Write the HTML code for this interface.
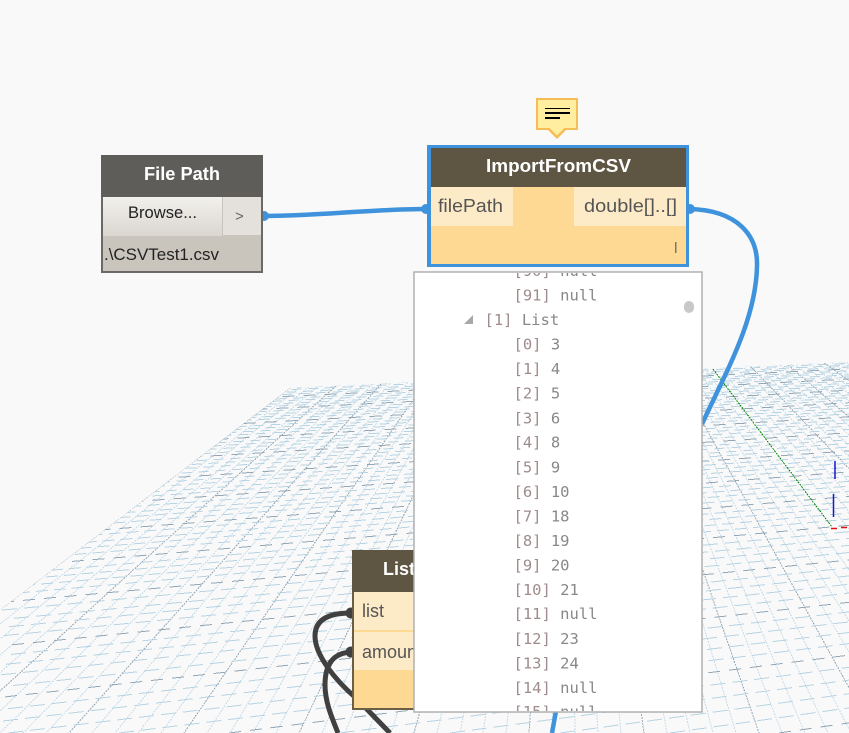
<!DOCTYPE html>
<html><head><meta charset="utf-8"><title>Dynamo graph</title>
<style>
html,body{margin:0;padding:0;background:#f9f9f9;width:849px;height:733px;overflow:hidden}
svg{display:block}
.h{font:bold 18px "Liberation Sans",sans-serif;fill:#fff}
.p{font:18px "Liberation Sans",sans-serif;fill:#555}
.b{font:17px "Liberation Sans",sans-serif;fill:#222}
.m{font:15.5px "DejaVu Sans Mono","Liberation Mono",monospace;fill:#888}
.m tspan{fill:#a08c8c}
</style></head><body>
<svg width="849" height="733" viewBox="0 0 849 733" xmlns="http://www.w3.org/2000/svg">
<defs>
<clipPath id="g"><polygon points="290,388 849,362 849,733 0,733 0,610"/></clipPath>
<clipPath id="pop"><rect x="415" y="273" width="286" height="438"/></clipPath>
<clipPath id="lst"><rect x="352" y="550" width="64" height="160"/></clipPath>
<linearGradient id="br" x1="0" y1="0" x2="0" y2="1"><stop offset="0" stop-color="#f2f0ec"/><stop offset="1" stop-color="#dad6d0"/></linearGradient>
</defs>
<rect width="849" height="733" fill="#f9f9f9"/>
<g clip-path="url(#g)" fill="none" shape-rendering="crispEdges">
<path stroke="#c6dce8" stroke-width="1" stroke-dasharray="2 1" d="M567 176L0 624M567 176L0 639M567 176L0 655M567 176L0 672.6M567 176L0 711M567 176L0 733M567 176L23 733M567 176L46 733M567 176L92 733M567 176L115 733M567 176L138 733M567 176L161 733M567 176L207 733M567 176L230 733M567 176L253 733M567 176L276 733M567 176L322 733M567 176L345 733M567 176L368 733M567 176L391 733M567 176L437 733M567 176L460 733M567 176L483 733M567 176L506 733M567 176L552 733M567 176L575 733M567 176L598 733M567 176L621 733M567 176L667 733M567 176L690 733M567 176L713 733M567 176L736 733M567 176L782 733M567 176L805 733M567 176L828 733M567 176L849 729M567 176L849 652M567 176L849 621M567 176L849 594M567 176L849 569.7M567 176L849 529M567 176L849 511.6M567 176L849 496M567 176L849 481.6M567 176L849 456.5M567 176L849 445.4M567 176L849 435M567 176L849 425.7M567 176L849 408.7M567 176L849 401M567 176L849 393.9M567 176L849 387M567 176L849 374.8M567 176L849 369.2M567 176L849 363.9"/>
<path stroke="#98a9b6" stroke-width="1" stroke-dasharray="2 1" d="M567 176L0 609.8M567 176L0 691M567 176L69 733M567 176L184 733M567 176L299 733M567 176L414 733M567 176L529 733M567 176L644 733M567 176L759 733M567 176L849 687.6M567 176L849 468.5M567 176L849 417M567 176L849 380.8"/>
<path stroke="#b8d3e4" stroke-width="1" stroke-dasharray="15 7" d="M670 733L849 707.9M560 733L849 693.7M450 733L849 680.1M339.6 733L849 667.3M119 733L849 643.6M8 733L849 632.5M3 721L849 621.9M8 708.7L849 611.9M13 685.5L849 593.1M1 674.8L849 584.3M6 664.3L849 575.9M11 654.4L849 567.8M4 635.6L849 552.5M9 626.7L849 545.3M14 618.3L849 538.4M2 610.1L849 531.7"/>
<path stroke="#b8d3e4" stroke-width="1" stroke-dasharray="12 6" d="M0 594.6L849 519.1M5 587.2L849 513.1M10 580.1L849 507.4M15 573.3L849 501.8M3 560.3L849 491.2M8 554L849 486.1M13 548.1L849 481.3M1 542.2L849 476.5M6 531.1L849 467.4M11 525.7L849 463.1M16 520.7L849 459M4 515.7L849 454.9M9 506L849 447"/>
<path stroke="#b8d3e4" stroke-width="1" stroke-dasharray="10 7" d="M14 501.5L849 443.4M2 497L849 439.7M7 492.6L849 436.2M12 484.2L849 429.3M0 480.2L849 426.1M5 476.3L849 422.9M10 472.5L849 419.8M15 465.2L849 413.8M3 461.6L849 411M8 458.2L849 408.2M13 454.8L849 405.4M1 448.3L849 400.1M6 445.2L849 397.6M11 442.1L849 395.1M16 439L849 392.6M4 433.2L849 387.9M9 430.4L849 385.6M14 427.7L849 383.3M2 425L849 381.1M7 419.8L849 376.9M12 417.3L849 374.9M0 414.8L849 372.9M5 412.3L849 370.8M10 407.7L849 367.1M15 405.3L849 365.2M3 403.1L849 363.3M8 401L849 361.6"/>
<path stroke="#93a7b6" stroke-width="1" stroke-dasharray="12 9" d="M779 733L849 722.9M229 733L849 655.1M5 696.9L849 602.3M12 644.8L849 560M2 602.3L849 525.3M9 566.7L849 496.4M15 536.6L849 471.9M6 510.7L849 450.9M11 488.4L849 432.7M1 468.8L849 416.8M7 451.5L849 402.7M13 436.1L849 390.2M4 422.4L849 379M10 409.9L849 368.9M0 398.7L849 359.8"/>
<path stroke="#0a8a0a" stroke-width="1" stroke-dasharray="2 1" d="M713 369L832 527"/>
</g>
<path d="M835 461V479M833.5 494V517" stroke="#1515d8" stroke-width="1.5" fill="none"/>
<path d="M831 528.5H837M841 527.5H847" stroke="#e01010" stroke-width="1.5" fill="none"/>

<!-- blue wires -->
<g fill="none" stroke="#3f92dc" stroke-width="4.5">
<path d="M263 216C320 216 370 209 428 209"/>
<path d="M689 209C738 210 758 236 757 266C756 320 726 372 702 424"/>
<path d="M556 711L552 733"/>
</g>
<circle cx="264" cy="216" r="5" fill="#3f92dc"/>
<circle cx="426" cy="209" r="5" fill="#3f92dc"/>
<circle cx="690" cy="209" r="5" fill="#3f92dc"/>

<!-- dark wires -->
<g fill="none" stroke="#404040" stroke-width="5">
<path d="M351 613C328 613 315 620 315 636C315 655 335 680 356 698L390 733"/>
<path d="M351 652C335 653 325 662 325 685C325 702 332 718 338 733"/>
</g>
<circle cx="351" cy="613" r="5.5" fill="#404040"/>
<circle cx="351" cy="652" r="5.5" fill="#404040"/>

<!-- File Path node -->
<rect x="101" y="155" width="162" height="118" fill="#6b6966"/>
<rect x="101" y="155" width="162" height="42" fill="#5f5d5a"/>
<rect x="103" y="197" width="158" height="74" fill="#c9c5bd"/>
<rect x="103" y="197" width="119" height="39" fill="url(#br)"/>
<rect x="223" y="197" width="38" height="38" fill="#e4e1dc"/>
<text class="h" x="144" y="180" textLength="76" lengthAdjust="spacingAndGlyphs">File Path</text>
<text class="b" x="128" y="218" textLength="69" lengthAdjust="spacingAndGlyphs">Browse...</text>
<text x="235" y="221" font-family="Liberation Sans,sans-serif" font-size="15" fill="#666">&gt;</text>
<text class="b" x="104" y="260" textLength="115" lengthAdjust="spacingAndGlyphs">.\CSVTest1.csv</text>

<!-- Note -->
<rect x="537" y="99" width="40" height="30" fill="#ffeea0" stroke="#f6bd56" stroke-width="2"/>
<polygon points="547,129 557,139 567,129" fill="#f6bd56"/>
<polygon points="549.5,128 557,135.5 564.5,128" fill="#ffeea0"/>
<rect x="545" y="108" width="25" height="1" fill="#000"/>
<rect x="545" y="112" width="25" height="2" fill="#000"/>
<rect x="545" y="117" width="15" height="2" fill="#000"/>

<!-- ImportFromCSV node -->
<rect x="427" y="145" width="262" height="122" fill="#3f92dc"/>
<rect x="431" y="148" width="255" height="116" fill="#fdd993"/>
<rect x="431" y="148" width="255" height="39" fill="#5e5543"/>
<rect x="431" y="187" width="82" height="39" fill="#fdebc7"/>
<rect x="574" y="187" width="112" height="39" fill="#fdebc7"/>
<text class="h" x="486" y="172" textLength="145" lengthAdjust="spacingAndGlyphs">ImportFromCSV</text>
<text class="p" x="438" y="212" textLength="65" lengthAdjust="spacingAndGlyphs">filePath</text>
<text class="p" x="584" y="212" textLength="93" lengthAdjust="spacingAndGlyphs">double[]..[]</text>
<rect x="675" y="242" width="1.5" height="11" fill="#777"/>

<!-- List node -->
<rect x="352" y="550" width="64" height="160" fill="#6b5f45"/>
<rect x="354" y="592" width="62" height="116" fill="#fdd993"/>
<rect x="352" y="550" width="64" height="42" fill="#5e5543"/>
<rect x="354" y="592" width="62" height="38" fill="#fdebc7"/>
<rect x="354" y="632" width="62" height="38" fill="#fdebc7"/>
<g clip-path="url(#lst)">
<text class="h" x="383" y="575">List.Chop</text>
<text class="p" x="362" y="617">list</text>
<text class="p" x="362" y="658">amount</text>
</g>

<!-- Watch popup -->
<rect x="414" y="272" width="288" height="440" fill="#fff" stroke="#b0b0b0" stroke-width="1.5"/>
<g clip-path="url(#pop)">
<text class="m" x="513.5" y="276"><tspan>[90]</tspan> null</text>
<text class="m" x="513.5" y="300.5"><tspan>[91]</tspan> null</text>
<text class="m" x="484.5" y="325"><tspan>[1]</tspan> List</text>
<text class="m" x="513.5" y="349.5"><tspan>[0]</tspan> 3</text>
<text class="m" x="513.5" y="374"><tspan>[1]</tspan> 4</text>
<text class="m" x="513.5" y="398.5"><tspan>[2]</tspan> 5</text>
<text class="m" x="513.5" y="423.5"><tspan>[3]</tspan> 6</text>
<text class="m" x="513.5" y="447.5"><tspan>[4]</tspan> 8</text>
<text class="m" x="513.5" y="472.5"><tspan>[5]</tspan> 9</text>
<text class="m" x="513.5" y="497"><tspan>[6]</tspan> 10</text>
<text class="m" x="513.5" y="521.5"><tspan>[7]</tspan> 18</text>
<text class="m" x="513.5" y="546"><tspan>[8]</tspan> 19</text>
<text class="m" x="513.5" y="570.5"><tspan>[9]</tspan> 20</text>
<text class="m" x="513.5" y="595"><tspan>[10]</tspan> 21</text>
<text class="m" x="513.5" y="619"><tspan>[11]</tspan> null</text>
<text class="m" x="513.5" y="644"><tspan>[12]</tspan> 23</text>
<text class="m" x="513.5" y="668.5"><tspan>[13]</tspan> 24</text>
<text class="m" x="513.5" y="693"><tspan>[14]</tspan> null</text>
<text class="m" x="513.5" y="717"><tspan>[15]</tspan> null</text>
</g>
<polygon points="464,324 473,324 473,315" fill="#a8a8a8"/>
<rect x="684" y="301" width="10" height="12" rx="5" fill="#c8c8c8"/>
</svg>
</body></html>
